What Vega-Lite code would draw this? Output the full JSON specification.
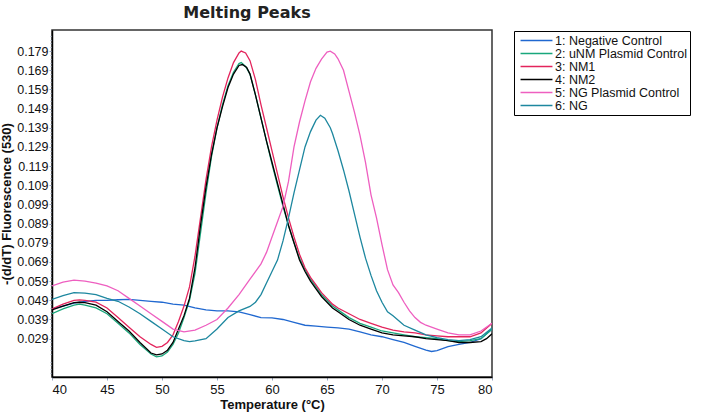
{
  "$schema": "https://vega.github.io/schema/vega-lite/v6.json",
  "autosize": {"type": "none"},
  "width": 440,
  "height": 347,
  "padding": {"left": 52, "top": 30, "right": 212, "bottom": 37},
  "background": "white",
  "config": {
    "font": "Liberation Sans",
    "view": {"stroke": "#333333", "strokeWidth": 1.5},
    "title": {"font": "DejaVu Sans", "fontSize": 16, "fontWeight": "bold", "color": "#222222", "offset": 9, "dx": -25}
  },
  "title": "Melting Peaks",
  "data": {"values": [
    {"s":"1: Negative Control","t":40,"v":0.0445},{"s":"1: Negative Control","t":41,"v":0.046},{"s":"1: Negative Control","t":42,"v":0.0475},{"s":"1: Negative Control","t":43,"v":0.0485},{"s":"1: Negative Control","t":44,"v":0.049},{"s":"1: Negative Control","t":45,"v":0.049},{"s":"1: Negative Control","t":46,"v":0.0493},{"s":"1: Negative Control","t":47,"v":0.0495},{"s":"1: Negative Control","t":48,"v":0.049},{"s":"1: Negative Control","t":49,"v":0.0485},{"s":"1: Negative Control","t":50,"v":0.048},{"s":"1: Negative Control","t":51,"v":0.047},{"s":"1: Negative Control","t":52,"v":0.0465},{"s":"1: Negative Control","t":53,"v":0.045},{"s":"1: Negative Control","t":54,"v":0.044},{"s":"1: Negative Control","t":55,"v":0.0435},{"s":"1: Negative Control","t":56,"v":0.0435},{"s":"1: Negative Control","t":57,"v":0.043},{"s":"1: Negative Control","t":58,"v":0.0415},{"s":"1: Negative Control","t":59,"v":0.04},{"s":"1: Negative Control","t":60,"v":0.0398},{"s":"1: Negative Control","t":61,"v":0.039},{"s":"1: Negative Control","t":62,"v":0.0375},{"s":"1: Negative Control","t":63,"v":0.036},{"s":"1: Negative Control","t":64,"v":0.0355},{"s":"1: Negative Control","t":65,"v":0.035},{"s":"1: Negative Control","t":66,"v":0.0346},{"s":"1: Negative Control","t":67,"v":0.034},{"s":"1: Negative Control","t":68,"v":0.0325},{"s":"1: Negative Control","t":69,"v":0.031},{"s":"1: Negative Control","t":70,"v":0.03},{"s":"1: Negative Control","t":71,"v":0.0285},{"s":"1: Negative Control","t":72,"v":0.027},{"s":"1: Negative Control","t":73,"v":0.025},{"s":"1: Negative Control","t":74,"v":0.023},{"s":"1: Negative Control","t":74.5,"v":0.0223},{"s":"1: Negative Control","t":75,"v":0.0228},{"s":"1: Negative Control","t":76,"v":0.0248},{"s":"1: Negative Control","t":77,"v":0.026},{"s":"1: Negative Control","t":78,"v":0.027},{"s":"1: Negative Control","t":79,"v":0.029},{"s":"1: Negative Control","t":80,"v":0.034},

    {"s":"2: uNM Plasmid Control","t":40,"v":0.042},{"s":"2: uNM Plasmid Control","t":41,"v":0.0445},{"s":"2: uNM Plasmid Control","t":42,"v":0.0465},{"s":"2: uNM Plasmid Control","t":42.5,"v":0.047},{"s":"2: uNM Plasmid Control","t":43,"v":0.0465},{"s":"2: uNM Plasmid Control","t":44,"v":0.045},{"s":"2: uNM Plasmid Control","t":45,"v":0.042},{"s":"2: uNM Plasmid Control","t":46,"v":0.037},{"s":"2: uNM Plasmid Control","t":47,"v":0.032},{"s":"2: uNM Plasmid Control","t":48,"v":0.026},{"s":"2: uNM Plasmid Control","t":49,"v":0.021},{"s":"2: uNM Plasmid Control","t":49.5,"v":0.0195},{"s":"2: uNM Plasmid Control","t":50,"v":0.02},{"s":"2: uNM Plasmid Control","t":50.5,"v":0.022},{"s":"2: uNM Plasmid Control","t":51,"v":0.026},{"s":"2: uNM Plasmid Control","t":51.5,"v":0.032},{"s":"2: uNM Plasmid Control","t":52,"v":0.04},{"s":"2: uNM Plasmid Control","t":52.5,"v":0.049},{"s":"2: uNM Plasmid Control","t":53,"v":0.063},{"s":"2: uNM Plasmid Control","t":53.5,"v":0.084},{"s":"2: uNM Plasmid Control","t":54,"v":0.105},{"s":"2: uNM Plasmid Control","t":54.5,"v":0.124},{"s":"2: uNM Plasmid Control","t":55,"v":0.139},{"s":"2: uNM Plasmid Control","t":55.5,"v":0.151},{"s":"2: uNM Plasmid Control","t":56,"v":0.161},{"s":"2: uNM Plasmid Control","t":56.5,"v":0.168},{"s":"2: uNM Plasmid Control","t":57,"v":0.1725},{"s":"2: uNM Plasmid Control","t":57.2,"v":0.173},{"s":"2: uNM Plasmid Control","t":57.6,"v":0.171},{"s":"2: uNM Plasmid Control","t":58,"v":0.167},{"s":"2: uNM Plasmid Control","t":58.5,"v":0.156},{"s":"2: uNM Plasmid Control","t":59,"v":0.144},{"s":"2: uNM Plasmid Control","t":59.5,"v":0.132},{"s":"2: uNM Plasmid Control","t":60,"v":0.12},{"s":"2: uNM Plasmid Control","t":60.5,"v":0.109},{"s":"2: uNM Plasmid Control","t":61,"v":0.098},{"s":"2: uNM Plasmid Control","t":61.5,"v":0.088},{"s":"2: uNM Plasmid Control","t":62,"v":0.079},{"s":"2: uNM Plasmid Control","t":62.5,"v":0.071},{"s":"2: uNM Plasmid Control","t":63,"v":0.065},{"s":"2: uNM Plasmid Control","t":63.5,"v":0.06},{"s":"2: uNM Plasmid Control","t":64,"v":0.056},{"s":"2: uNM Plasmid Control","t":64.5,"v":0.052},{"s":"2: uNM Plasmid Control","t":65,"v":0.049},{"s":"2: uNM Plasmid Control","t":65.5,"v":0.046},{"s":"2: uNM Plasmid Control","t":66,"v":0.044},{"s":"2: uNM Plasmid Control","t":67,"v":0.04},{"s":"2: uNM Plasmid Control","t":68,"v":0.037},{"s":"2: uNM Plasmid Control","t":69,"v":0.035},{"s":"2: uNM Plasmid Control","t":70,"v":0.033},{"s":"2: uNM Plasmid Control","t":71,"v":0.032},{"s":"2: uNM Plasmid Control","t":72,"v":0.031},{"s":"2: uNM Plasmid Control","t":73,"v":0.03},{"s":"2: uNM Plasmid Control","t":74,"v":0.0295},{"s":"2: uNM Plasmid Control","t":75,"v":0.029},{"s":"2: uNM Plasmid Control","t":76,"v":0.028},{"s":"2: uNM Plasmid Control","t":77,"v":0.0275},{"s":"2: uNM Plasmid Control","t":78,"v":0.028},{"s":"2: uNM Plasmid Control","t":79,"v":0.029},{"s":"2: uNM Plasmid Control","t":80,"v":0.034},

    {"s":"3: NM1","t":40,"v":0.0445},{"s":"3: NM1","t":41,"v":0.047},{"s":"3: NM1","t":42,"v":0.049},{"s":"3: NM1","t":42.5,"v":0.0492},{"s":"3: NM1","t":43,"v":0.049},{"s":"3: NM1","t":44,"v":0.048},{"s":"3: NM1","t":45,"v":0.045},{"s":"3: NM1","t":46,"v":0.04},{"s":"3: NM1","t":47,"v":0.035},{"s":"3: NM1","t":48,"v":0.03},{"s":"3: NM1","t":49,"v":0.026},{"s":"3: NM1","t":49.5,"v":0.0245},{"s":"3: NM1","t":50,"v":0.025},{"s":"3: NM1","t":50.5,"v":0.027},{"s":"3: NM1","t":51,"v":0.031},{"s":"3: NM1","t":51.5,"v":0.038},{"s":"3: NM1","t":52,"v":0.046},{"s":"3: NM1","t":52.5,"v":0.056},{"s":"3: NM1","t":53,"v":0.072},{"s":"3: NM1","t":53.5,"v":0.092},{"s":"3: NM1","t":54,"v":0.112},{"s":"3: NM1","t":54.5,"v":0.129},{"s":"3: NM1","t":55,"v":0.143},{"s":"3: NM1","t":55.5,"v":0.155},{"s":"3: NM1","t":56,"v":0.165},{"s":"3: NM1","t":56.5,"v":0.173},{"s":"3: NM1","t":57,"v":0.178},{"s":"3: NM1","t":57.2,"v":0.179},{"s":"3: NM1","t":57.6,"v":0.178},{"s":"3: NM1","t":58,"v":0.174},{"s":"3: NM1","t":58.5,"v":0.164},{"s":"3: NM1","t":59,"v":0.151},{"s":"3: NM1","t":59.5,"v":0.139},{"s":"3: NM1","t":60,"v":0.127},{"s":"3: NM1","t":60.5,"v":0.115},{"s":"3: NM1","t":61,"v":0.103},{"s":"3: NM1","t":61.5,"v":0.092},{"s":"3: NM1","t":62,"v":0.082},{"s":"3: NM1","t":62.5,"v":0.073},{"s":"3: NM1","t":63,"v":0.066},{"s":"3: NM1","t":63.5,"v":0.061},{"s":"3: NM1","t":64,"v":0.057},{"s":"3: NM1","t":64.5,"v":0.053},{"s":"3: NM1","t":65,"v":0.05},{"s":"3: NM1","t":65.5,"v":0.047},{"s":"3: NM1","t":66,"v":0.045},{"s":"3: NM1","t":67,"v":0.042},{"s":"3: NM1","t":68,"v":0.039},{"s":"3: NM1","t":69,"v":0.037},{"s":"3: NM1","t":70,"v":0.035},{"s":"3: NM1","t":71,"v":0.0335},{"s":"3: NM1","t":72,"v":0.0325},{"s":"3: NM1","t":73,"v":0.032},{"s":"3: NM1","t":74,"v":0.031},{"s":"3: NM1","t":75,"v":0.0305},{"s":"3: NM1","t":76,"v":0.03},{"s":"3: NM1","t":77,"v":0.03},{"s":"3: NM1","t":78,"v":0.03},{"s":"3: NM1","t":79,"v":0.032},{"s":"3: NM1","t":80,"v":0.037},

    {"s":"4: NM2","t":40,"v":0.044},{"s":"4: NM2","t":41,"v":0.046},{"s":"4: NM2","t":42,"v":0.0478},{"s":"4: NM2","t":42.5,"v":0.048},{"s":"4: NM2","t":43,"v":0.0478},{"s":"4: NM2","t":44,"v":0.0465},{"s":"4: NM2","t":45,"v":0.043},{"s":"4: NM2","t":46,"v":0.038},{"s":"4: NM2","t":47,"v":0.033},{"s":"4: NM2","t":48,"v":0.027},{"s":"4: NM2","t":49,"v":0.0215},{"s":"4: NM2","t":49.5,"v":0.0205},{"s":"4: NM2","t":50,"v":0.021},{"s":"4: NM2","t":50.5,"v":0.023},{"s":"4: NM2","t":51,"v":0.027},{"s":"4: NM2","t":51.5,"v":0.034},{"s":"4: NM2","t":52,"v":0.041},{"s":"4: NM2","t":52.5,"v":0.05},{"s":"4: NM2","t":53,"v":0.066},{"s":"4: NM2","t":53.5,"v":0.088},{"s":"4: NM2","t":54,"v":0.108},{"s":"4: NM2","t":54.5,"v":0.125},{"s":"4: NM2","t":55,"v":0.139},{"s":"4: NM2","t":55.5,"v":0.15},{"s":"4: NM2","t":56,"v":0.16},{"s":"4: NM2","t":56.5,"v":0.167},{"s":"4: NM2","t":57,"v":0.1715},{"s":"4: NM2","t":57.3,"v":0.172},{"s":"4: NM2","t":57.7,"v":0.1705},{"s":"4: NM2","t":58,"v":0.167},{"s":"4: NM2","t":58.5,"v":0.156},{"s":"4: NM2","t":59,"v":0.144},{"s":"4: NM2","t":59.5,"v":0.132},{"s":"4: NM2","t":60,"v":0.121},{"s":"4: NM2","t":60.5,"v":0.11},{"s":"4: NM2","t":61,"v":0.099},{"s":"4: NM2","t":61.5,"v":0.088},{"s":"4: NM2","t":62,"v":0.079},{"s":"4: NM2","t":62.5,"v":0.07},{"s":"4: NM2","t":63,"v":0.064},{"s":"4: NM2","t":63.5,"v":0.059},{"s":"4: NM2","t":64,"v":0.055},{"s":"4: NM2","t":64.5,"v":0.051},{"s":"4: NM2","t":65,"v":0.048},{"s":"4: NM2","t":65.5,"v":0.045},{"s":"4: NM2","t":66,"v":0.043},{"s":"4: NM2","t":67,"v":0.039},{"s":"4: NM2","t":68,"v":0.036},{"s":"4: NM2","t":69,"v":0.034},{"s":"4: NM2","t":70,"v":0.032},{"s":"4: NM2","t":71,"v":0.031},{"s":"4: NM2","t":72,"v":0.0305},{"s":"4: NM2","t":73,"v":0.03},{"s":"4: NM2","t":74,"v":0.029},{"s":"4: NM2","t":75,"v":0.0285},{"s":"4: NM2","t":76,"v":0.028},{"s":"4: NM2","t":77,"v":0.027},{"s":"4: NM2","t":78,"v":0.027},{"s":"4: NM2","t":79,"v":0.0275},{"s":"4: NM2","t":79.5,"v":0.029},{"s":"4: NM2","t":80,"v":0.0315},

    {"s":"5: NG Plasmid Control","t":40,"v":0.0565},{"s":"5: NG Plasmid Control","t":41,"v":0.0585},{"s":"5: NG Plasmid Control","t":42,"v":0.0595},{"s":"5: NG Plasmid Control","t":43,"v":0.059},{"s":"5: NG Plasmid Control","t":44,"v":0.058},{"s":"5: NG Plasmid Control","t":45,"v":0.0565},{"s":"5: NG Plasmid Control","t":46,"v":0.054},{"s":"5: NG Plasmid Control","t":47,"v":0.05},{"s":"5: NG Plasmid Control","t":48,"v":0.046},{"s":"5: NG Plasmid Control","t":49,"v":0.042},{"s":"5: NG Plasmid Control","t":50,"v":0.038},{"s":"5: NG Plasmid Control","t":51,"v":0.034},{"s":"5: NG Plasmid Control","t":52,"v":0.0325},{"s":"5: NG Plasmid Control","t":53,"v":0.0335},{"s":"5: NG Plasmid Control","t":54,"v":0.036},{"s":"5: NG Plasmid Control","t":55,"v":0.039},{"s":"5: NG Plasmid Control","t":56,"v":0.045},{"s":"5: NG Plasmid Control","t":57,"v":0.052},{"s":"5: NG Plasmid Control","t":58,"v":0.06},{"s":"5: NG Plasmid Control","t":59,"v":0.068},{"s":"5: NG Plasmid Control","t":59.5,"v":0.074},{"s":"5: NG Plasmid Control","t":60,"v":0.082},{"s":"5: NG Plasmid Control","t":60.5,"v":0.09},{"s":"5: NG Plasmid Control","t":61,"v":0.098},{"s":"5: NG Plasmid Control","t":61.5,"v":0.111},{"s":"5: NG Plasmid Control","t":62,"v":0.129},{"s":"5: NG Plasmid Control","t":62.5,"v":0.142},{"s":"5: NG Plasmid Control","t":63,"v":0.153},{"s":"5: NG Plasmid Control","t":63.5,"v":0.163},{"s":"5: NG Plasmid Control","t":64,"v":0.17},{"s":"5: NG Plasmid Control","t":64.5,"v":0.1748},{"s":"5: NG Plasmid Control","t":65,"v":0.1785},{"s":"5: NG Plasmid Control","t":65.3,"v":0.179},{"s":"5: NG Plasmid Control","t":65.7,"v":0.1775},{"s":"5: NG Plasmid Control","t":66,"v":0.175},{"s":"5: NG Plasmid Control","t":66.5,"v":0.169},{"s":"5: NG Plasmid Control","t":67,"v":0.158},{"s":"5: NG Plasmid Control","t":67.5,"v":0.147},{"s":"5: NG Plasmid Control","t":68,"v":0.135},{"s":"5: NG Plasmid Control","t":68.5,"v":0.121},{"s":"5: NG Plasmid Control","t":69,"v":0.104},{"s":"5: NG Plasmid Control","t":69.5,"v":0.092},{"s":"5: NG Plasmid Control","t":70,"v":0.078},{"s":"5: NG Plasmid Control","t":70.5,"v":0.065},{"s":"5: NG Plasmid Control","t":71,"v":0.057},{"s":"5: NG Plasmid Control","t":71.5,"v":0.053},{"s":"5: NG Plasmid Control","t":72,"v":0.048},{"s":"5: NG Plasmid Control","t":72.5,"v":0.0435},{"s":"5: NG Plasmid Control","t":73,"v":0.04},{"s":"5: NG Plasmid Control","t":73.5,"v":0.0375},{"s":"5: NG Plasmid Control","t":74,"v":0.036},{"s":"5: NG Plasmid Control","t":75,"v":0.034},{"s":"5: NG Plasmid Control","t":76,"v":0.032},{"s":"5: NG Plasmid Control","t":77,"v":0.031},{"s":"5: NG Plasmid Control","t":78,"v":0.031},{"s":"5: NG Plasmid Control","t":79,"v":0.033},{"s":"5: NG Plasmid Control","t":80,"v":0.037},

    {"s":"6: NG","t":40,"v":0.0495},{"s":"6: NG","t":41,"v":0.0515},{"s":"6: NG","t":42,"v":0.053},{"s":"6: NG","t":43,"v":0.0528},{"s":"6: NG","t":44,"v":0.052},{"s":"6: NG","t":45,"v":0.05},{"s":"6: NG","t":46,"v":0.0485},{"s":"6: NG","t":47,"v":0.0455},{"s":"6: NG","t":48,"v":0.042},{"s":"6: NG","t":49,"v":0.038},{"s":"6: NG","t":50,"v":0.034},{"s":"6: NG","t":51,"v":0.03},{"s":"6: NG","t":52,"v":0.028},{"s":"6: NG","t":52.5,"v":0.0275},{"s":"6: NG","t":53,"v":0.0278},{"s":"6: NG","t":54,"v":0.029},{"s":"6: NG","t":55,"v":0.034},{"s":"6: NG","t":56,"v":0.04},{"s":"6: NG","t":57,"v":0.0435},{"s":"6: NG","t":58,"v":0.0458},{"s":"6: NG","t":58.5,"v":0.048},{"s":"6: NG","t":59,"v":0.052},{"s":"6: NG","t":59.5,"v":0.058},{"s":"6: NG","t":60,"v":0.064},{"s":"6: NG","t":60.5,"v":0.07},{"s":"6: NG","t":61,"v":0.08},{"s":"6: NG","t":61.5,"v":0.092},{"s":"6: NG","t":62,"v":0.105},{"s":"6: NG","t":62.5,"v":0.117},{"s":"6: NG","t":63,"v":0.129},{"s":"6: NG","t":63.5,"v":0.137},{"s":"6: NG","t":64,"v":0.143},{"s":"6: NG","t":64.4,"v":0.1455},{"s":"6: NG","t":64.8,"v":0.144},{"s":"6: NG","t":65.3,"v":0.139},{"s":"6: NG","t":65.5,"v":0.136},{"s":"6: NG","t":66,"v":0.127},{"s":"6: NG","t":66.5,"v":0.117},{"s":"6: NG","t":67,"v":0.106},{"s":"6: NG","t":67.5,"v":0.094},{"s":"6: NG","t":68,"v":0.082},{"s":"6: NG","t":68.5,"v":0.071},{"s":"6: NG","t":69,"v":0.062},{"s":"6: NG","t":69.5,"v":0.054},{"s":"6: NG","t":70,"v":0.048},{"s":"6: NG","t":70.5,"v":0.043},{"s":"6: NG","t":71,"v":0.041},{"s":"6: NG","t":71.5,"v":0.0385},{"s":"6: NG","t":72,"v":0.036},{"s":"6: NG","t":73,"v":0.0335},{"s":"6: NG","t":74,"v":0.031},{"s":"6: NG","t":75,"v":0.0295},{"s":"6: NG","t":76,"v":0.0285},{"s":"6: NG","t":77,"v":0.028},{"s":"6: NG","t":78,"v":0.0285},{"s":"6: NG","t":79,"v":0.03},{"s":"6: NG","t":80,"v":0.0345}
  ]},
  "layer": [
    {
      "mark": {"type": "point", "opacity": 0},
      "encoding": {
        "x": {"field": "t", "type": "quantitative", "scale": {"domain": [40, 80], "nice": false, "zero": false}},
        "y": {
          "field": "v", "type": "quantitative",
          "scale": {"domain": [0.009, 0.19], "nice": false, "zero": false},
          "axis": {
            "orient": "left", "title": null, "labels": false, "domain": false, "grid": false,
            "tickColor": "#a9b4c8", "tickSize": 2,
            "values": [0.011,0.013,0.015,0.017,0.021,0.023,0.025,0.027,0.031,0.033,0.035,0.037,0.041,0.043,0.045,0.047,0.051,0.053,0.055,0.057,0.061,0.063,0.065,0.067,0.071,0.073,0.075,0.077,0.081,0.083,0.085,0.087,0.091,0.093,0.095,0.097,0.101,0.103,0.105,0.107,0.111,0.113,0.115,0.117,0.121,0.123,0.125,0.127,0.131,0.133,0.135,0.137,0.141,0.143,0.145,0.147,0.151,0.153,0.155,0.157,0.161,0.163,0.165,0.167,0.171,0.173,0.175,0.177,0.181,0.183,0.185,0.187]
          }
        }
      }
    },
    {
      "mark": {"type": "line", "strokeWidth": 1.3, "clip": true},
      "encoding": {
        "x": {
          "field": "t", "type": "quantitative",
          "scale": {"domain": [40, 80], "nice": false, "zero": false},
          "axis": {
            "title": "Temperature (°C)", "values": [40, 45, 50, 55, 60, 65, 70, 75, 80],
            "grid": false, "domainColor": "#000000", "domainWidth": 1.5,
            "tickColor": "#9aa6bd", "tickSize": 3, "labelFontSize": 13, "labelColor": "#111111",
            "labelPadding": 3, "labelFont": "Liberation Sans",
            "titleFont": "Liberation Sans", "titleFontSize": 13, "titleFontWeight": "bold", "titleColor": "#111111", "titlePadding": 2
          }
        },
        "y": {
          "field": "v", "type": "quantitative",
          "scale": {"domain": [0.009, 0.19], "nice": false, "zero": false},
          "axis": {
            "orient": "left",
            "title": "-(d/dT) Fluorescence (530)",
            "values": [0.029, 0.039, 0.049, 0.059, 0.069, 0.079, 0.089, 0.099, 0.109, 0.119, 0.129, 0.139, 0.149, 0.159, 0.169, 0.179],
            "format": ".3f", "grid": false, "domainColor": "#000000", "domainWidth": 1.5,
            "tickColor": "#9aa6bd", "tickSize": 3, "labelFontSize": 12.5, "labelColor": "#111111", "labelPadding": 1,
            "labelFont": "Liberation Sans",
            "titleFont": "Liberation Sans", "titleFontSize": 13, "titleFontWeight": "bold", "titleColor": "#111111", "titlePadding": 3
          }
        },
        "color": {
          "field": "s", "type": "nominal",
          "scale": {
            "domain": ["1: Negative Control", "2: uNM Plasmid Control", "3: NM1", "4: NM2", "5: NG Plasmid Control", "6: NG"],
            "range": ["#2068d0", "#19a77c", "#e3245c", "#000000", "#ee5fc0", "#1d879f"]
          },
          "legend": {
            "title": null, "orient": "none", "legendX": 462, "legendY": 1,
            "symbolType": "M-2.9,0H2.9", "symbolSize": 121, "symbolStrokeWidth": 1.5, "symbolOffset": 13,
            "labelFont": "Liberation Sans", "labelFontSize": 12.5, "labelColor": "#111111",
            "labelOffset": 12, "rowPadding": 0, "padding": 3,
            "strokeColor": "#000000", "fillColor": "white", "labelLimit": 300
          }
        }
      }
    }
  ],
  "resolve": {"axis": {"y": "independent"}}
}
